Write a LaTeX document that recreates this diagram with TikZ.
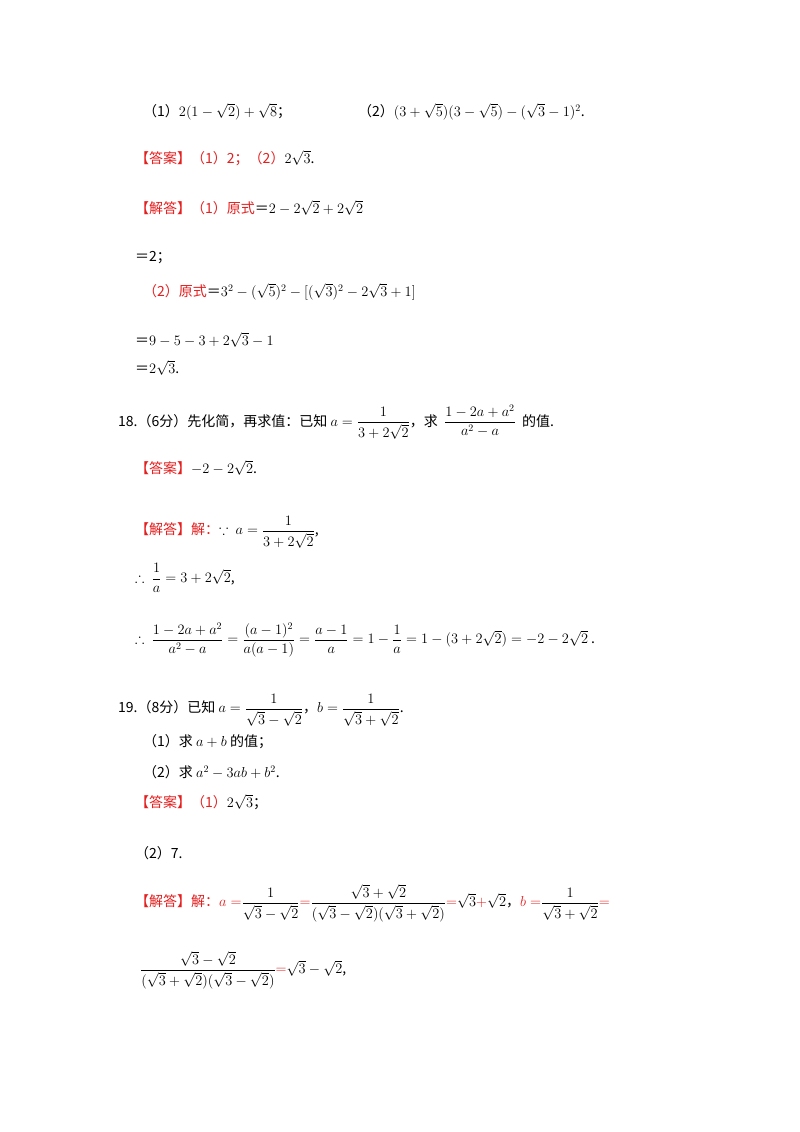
\documentclass[tikz,border=0pt]{standalone}
\usepackage{amsmath,amssymb}
\usepackage{fontspec}
\setmainfont{Liberation Serif}
\newfontfamily\cjk{Noto Sans CJK SC}
\definecolor{ans}{RGB}{230,30,30}
\newcommand{\rd}[1]{\textcolor{ans}{#1}}
\begin{document}
\begin{tikzpicture}[x=1pt,y=-1pt,t/.style={anchor=west,inner sep=0pt,font=\fontsize{14}{16}\selectfont\cjk}]
\useasboundingbox[fill=white] (0,0) rectangle (800,1132);
\node[t] (l1) at (143,112) {（1）$2(1-\sqrt2)+\sqrt8$；};
\node[t] (l1b) at (358,112) {（2）$(3+\sqrt5)(3-\sqrt5)-(\sqrt3-1)^2$.};
\node[t] (l2) at (135,158) {\rd{【答案】（1）2；（2）}$2\sqrt3$.};
\node[t] (l3) at (135,208) {\rd{【解答】（1）原式}＝$2-2\sqrt2+2\sqrt2$};
\node[t] (l4) at (135,258) {＝2；};
\node[t] (l5) at (143,292) {\rd{（2）原式}＝$3^2-(\sqrt5)^2-[(\sqrt3)^2-2\sqrt3+1]$};
\node[t] (l6) at (135,340) {＝$9-5-3+2\sqrt3-1$};
\node[t] (l7) at (135,368) {＝$2\sqrt3$.};
\node[t] (l8) at (118,422) {18.（6分）先化简，再求值：已知 $a=\dfrac{1}{3+2\sqrt2}$，求 \ $\dfrac{1-2a+a^2}{a^2-a}$ \ 的值.};
\node[t] (l9) at (135,468) {\rd{【答案】}$-2-2\sqrt2$.};
\node[t] (l10) at (135,532) {\rd{【解答】解：}$\because\ a=\dfrac{1}{3+2\sqrt2}$,};
\node[t] (l11) at (135,578) {$\therefore\ \dfrac{1}{a}=3+2\sqrt2$,};
\node[t] (l12) at (135,640) {$\therefore\ \dfrac{1-2a+a^2}{a^2-a}=\dfrac{(a-1)^2}{a(a-1)}=\dfrac{a-1}{a}=1-\dfrac1a=1-(3+2\sqrt2)=-2-2\sqrt2$\ .};
\node[t] (l13) at (118,710) {19.（8分）已知 $a=\dfrac{1}{\sqrt3-\sqrt2}$，$b=\dfrac{1}{\sqrt3+\sqrt2}$.};
\node[t] (l14) at (143,742) {（1）求 $a+b$ 的值；};
\node[t] (l15) at (143,772) {（2）求 $a^2-3ab+b^2$.};
\node[t] (l16) at (135,802) {\rd{【答案】（1）}$2\sqrt3$；};
\node[t] (l17) at (135,853) {（2）7.};
\node[t] (l18) at (135,903) {\rd{【解答】解：$a=$}$\dfrac{1}{\sqrt3-\sqrt2}$\rd{$=$}$\dfrac{\sqrt3+\sqrt2}{(\sqrt3-\sqrt2)(\sqrt3+\sqrt2)}$\rd{$=$}$\sqrt3$\rd{$+$}$\sqrt2$，\rd{$b=$}$\dfrac{1}{\sqrt3+\sqrt2}$\rd{$=$}};
\node[t] (l19) at (140,970) {$\dfrac{\sqrt3-\sqrt2}{(\sqrt3+\sqrt2)(\sqrt3-\sqrt2)}$\rd{$=$}$\sqrt3-\sqrt2$,};
\end{tikzpicture}
\end{document}
